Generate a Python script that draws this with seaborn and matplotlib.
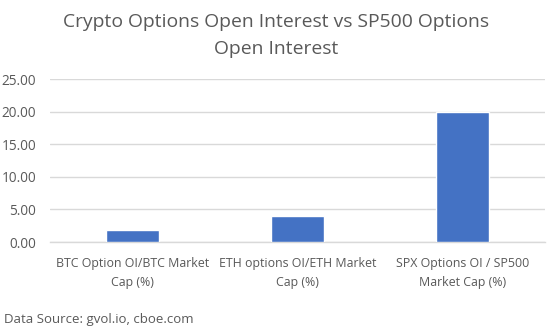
import matplotlib
matplotlib.use("Agg")
import matplotlib.pyplot as plt
import seaborn as sns
import pandas as pd

categories = [
    "BTC Option OI/BTC Market\nCap (%)",
    "ETH options OI/ETH Market\nCap (%)",
    "SPX Options OI / SP500\nMarket Cap (%)",
]
values = [1.8, 4.0, 20.0]
y_ticks = [0, 5, 10, 15, 20, 25]

sns.set_theme(style="white")
plt.rcParams["font.family"] = ["Open Sans", "DejaVu Sans"]

text_color = "#595959"
grid_color = "#d9d9d9"
bar_color = "#4472C4"

df = pd.DataFrame({"category": categories, "value": values})

fig = plt.figure(figsize=(5.52, 3.27), dpi=100)
ax = fig.add_axes([0.0906, 0.2599, 0.8964, 0.4985])

sns.barplot(data=df, x="category", y="value", color=bar_color,
            saturation=1, width=0.32, ax=ax, zorder=3)

ax.set_xlim(-0.5, 2.5)
ax.set_ylim(0, 25)
ax.set_yticks(y_ticks)
ax.set_yticklabels([f"{t:.2f}" for t in y_ticks])
ax.yaxis.grid(True, color=grid_color, linewidth=1)
ax.set_axisbelow(True)
for side in ["top", "right", "left"]:
    ax.spines[side].set_visible(False)
ax.spines["bottom"].set_color(grid_color)
ax.spines["bottom"].set_linewidth(1)
ax.tick_params(axis="both", length=0, colors=text_color)
ax.tick_params(axis="y", pad=10, labelsize=9.8)
ax.tick_params(axis="x", pad=11, labelsize=8.9)
for lbl in ax.get_xticklabels():
    lbl.set_linespacing(1.6)
ax.set_xlabel("")
ax.set_ylabel("")

fig.text(0.5, 0.891, "Crypto Options Open Interest vs SP500 Options\nOpen Interest",
         ha="center", va="center", fontsize=13.9, color=text_color, linespacing=1.6)
fig.text(0.008, 0.004, "Data Source: gvol.io, cboe.com", ha="left", va="bottom",
         fontsize=9.5, color=text_color)

fig.savefig("out.png", dpi=100, facecolor="white")
